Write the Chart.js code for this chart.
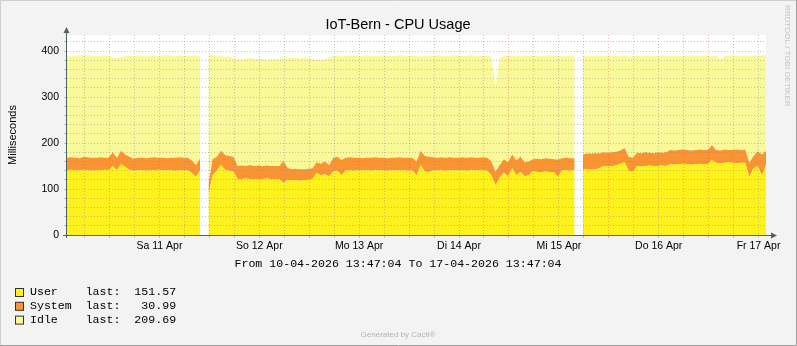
<!DOCTYPE html>
<html>
<head>
<meta charset="utf-8">
<script src="https://cdn.jsdelivr.net/npm/chart.js@4.4.1/dist/chart.umd.min.js"></script>
<style>
  html, body { margin: 0; padding: 0; background: #f3f3f3; }
  canvas { display: block; }
</style>
</head>
<body>
<canvas id="cpu" width="797" height="346"></canvas>
<script>
// x axis is in hours since 10-04-2026 00:00, one sample per hour
const startHour = 13 + 47 / 60 + 4 / 3600;
const spanHours = 168;

const dayLabels = ["Fr 10 Apr", "Sa 11 Apr", "So 12 Apr", "Mo 13 Apr", "Di 14 Apr", "Mi 15 Apr", "Do 16 Apr", "Fr 17 Apr"];
const seriesNames = ["User", "System", "Idle"];
const seriesColors = ["#fff21c", "#fa9433", "#f9f99a"];
const lastValues = [151.57, 30.99, 209.69];

const userMs = [
  141, 142, 141, 141, 142, 141, 140, 141, 141, 142, 141, 150, 141, 154, 148, 142, 140, 141, 141, 140,
  141, 141, 142, 141, 141, 141, 140, 141, 141, 141, 135, 126, 141, null, 88, 130, 140, 152, 142, 140,
  138, 122, 122, 123, 122, 121, 122, 122, 123, 122, 121, 122, 113, 120, 119, 119, 118, 119, 120, 122,
  135, 130, 132, 128, 138, 140, 130, 141, 141, 140, 141, 141, 141, 140, 141, 141, 141, 140, 141, 141,
  141, 141, 140, 141, 130, 152, 138, 137, 141, 141, 141, 140, 141, 141, 141, 141, 140, 141, 141, 141,
  141, 140, 130, 108, 125, 135, 128, 145, 130, 137, 128, 130, 140, 137, 137, 138, 137, 137, 126, 141,
  141, 140, 141, null, 142, 143, 142, 143, 145, 150, 149, 150, 151, 155, 159, 140, 138, 150, 149, 150,
  151, 150, 150, 151, 150, 154, 153, 154, 155, 154, 153, 154, 155, 154, 154, 163, 157, 156, 157, 158,
  157, 156, 157, 157, 126, 145, 150, 130, 151.57
];

const systemMs = [
  27, 27, 27, 26, 28, 28, 28, 27, 28, 26, 27, 30, 27, 29, 27, 28, 26, 27, 27, 27,
  27, 28, 26, 27, 26, 27, 28, 28, 27, 27, 27, 26, 26, null, 22, 35, 30, 31, 32, 32,
  32, 28, 29, 27, 30, 29, 29, 28, 28, 28, 29, 28, 48, 26, 24, 25, 25, 24, 24, 23,
  23, 25, 28, 24, 30, 30, 33, 27, 28, 28, 27, 26, 27, 28, 28, 27, 27, 27, 27, 27,
  28, 27, 28, 27, 30, 31, 34, 33, 28, 27, 28, 28, 28, 27, 27, 28, 28, 28, 27, 27,
  28, 28, 30, 30, 27, 30, 30, 30, 32, 33, 30, 30, 25, 29, 28, 29, 29, 28, 38, 26,
  27, 27, 26, null, 33, 34, 35, 35, 33, 30, 30, 30, 30, 29, 30, 30, 30, 29, 29, 30,
  28, 28, 30, 28, 30, 31, 31, 31, 31, 31, 31, 31, 31, 31, 31, 33, 28, 28, 29, 27,
  28, 30, 28, 29, 31, 27, 32, 45, 30.99
];

const idleMs = [
  221, 219, 222, 224, 222, 222, 222, 221, 221, 223, 222, 206, 217, 204, 214, 220, 223, 223, 222, 221,
  222, 222, 221, 222, 225, 222, 221, 222, 222, 221, 228, 239, 221, null, 286, 225, 218, 207, 213, 217,
  215, 233, 231, 234, 234, 233, 231, 233, 230, 233, 232, 234, 224, 238, 243, 241, 241, 243, 241, 238,
  222, 226, 223, 234, 221, 220, 225, 222, 222, 222, 221, 223, 223, 222, 220, 222, 223, 223, 221, 222,
  222, 222, 221, 222, 229, 205, 218, 219, 221, 223, 221, 221, 221, 223, 222, 220, 222, 222, 222, 221,
  221, 221, 228, 182, 234, 224, 232, 214, 228, 219, 232, 229, 225, 224, 224, 223, 225, 225, 225, 223,
  221, 223, 223, null, 216, 213, 212, 212, 212, 209, 211, 211, 209, 205, 201, 218, 221, 211, 211, 210,
  211, 211, 210, 212, 210, 204, 206, 205, 203, 205, 207, 205, 203, 205, 205, 193, 205, 197, 203, 205,
  206, 204, 204, 204, 232, 218, 209, 215, 209.69
];

const minorGrid = "rgba(140, 140, 140, 0.5)";
const majorGrid = "rgba(240, 60, 60, 0.4)";
const axisColor = "#4a6464";
const sans = "'Liberation Sans', Arial, sans-serif";
const mono = "'Liberation Mono', 'Courier New', monospace";

function toPoints(values) {
  return values.map((v, i) => ({ x: startHour + i, y: v }));
}

function makeDataset(i, fill) {
  return {
    label: seriesNames[i],
    data: toPoints([userMs, systemMs, idleMs][i]),
    backgroundColor: seriesColors[i],
    borderColor: "rgba(0,0,0,0)",
    borderWidth: 1,
    pointRadius: 0,
    tension: 0,
    fill: fill,
  };
}

// background, axes, title, legend and the small rrdtool texts
const rrdFrame = {
  id: "rrdFrame",
  beforeDraw(chart) {
    const { ctx, chartArea: a } = chart;
    ctx.save();
    ctx.fillStyle = "#f3f3f3";
    ctx.fillRect(0, 0, chart.width, chart.height);
    ctx.strokeStyle = "#cfcfcf";
    ctx.beginPath();
    ctx.moveTo(0.5, chart.height);
    ctx.lineTo(0.5, 0.5);
    ctx.lineTo(chart.width, 0.5);
    ctx.stroke();
    ctx.strokeStyle = "#9e9e9e";
    ctx.beginPath();
    ctx.moveTo(chart.width - 0.5, 0);
    ctx.lineTo(chart.width - 0.5, chart.height - 0.5);
    ctx.lineTo(0, chart.height - 0.5);
    ctx.stroke();
    ctx.fillStyle = "#ffffff";
    ctx.fillRect(a.left, a.top, a.right - a.left, a.bottom - a.top);
    ctx.restore();
  },
  afterDraw(chart) {
    const { ctx, chartArea: a } = chart;
    ctx.save();

    // axes with arrow heads
    ctx.strokeStyle = axisColor;
    ctx.fillStyle = axisColor;
    ctx.lineWidth = 1;
    ctx.beginPath();
    ctx.moveTo(a.left - 0.5, a.bottom + 3);
    ctx.lineTo(a.left - 0.5, a.top - 3);
    ctx.moveTo(a.left - 4, a.bottom + 0.5);
    ctx.lineTo(a.right + 5, a.bottom + 0.5);
    ctx.stroke();
    ctx.beginPath();
    ctx.moveTo(a.left - 0.5, a.top - 8);
    ctx.lineTo(a.left - 3.5, a.top - 2);
    ctx.lineTo(a.left + 2.5, a.top - 2);
    ctx.closePath();
    ctx.fill();
    ctx.beginPath();
    ctx.moveTo(a.right + 11, a.bottom + 0.5);
    ctx.lineTo(a.right + 5, a.bottom - 2.5);
    ctx.lineTo(a.right + 5, a.bottom + 3.5);
    ctx.closePath();
    ctx.fill();

    // title
    ctx.fillStyle = "#000";
    ctx.textAlign = "center";
    ctx.textBaseline = "alphabetic";
    ctx.font = "14.5px " + sans;
    ctx.fillText("IoT-Bern - CPU Usage", 398, 28.5);

    // vertical label
    ctx.save();
    ctx.translate(16, (a.top + a.bottom) / 2);
    ctx.rotate(-Math.PI / 2);
    ctx.font = "11px " + sans;
    ctx.fillText("Milliseconds", 0, 0);
    ctx.restore();

    // time range
    ctx.font = "11.6px " + mono;
    ctx.fillText("From 10-04-2026 13:47:04 To 17-04-2026 13:47:04", 398, 266.5);

    // legend
    ctx.textAlign = "left";
    seriesNames.forEach((name, i) => {
      const y = 295 + i * 13.8;
      ctx.fillStyle = seriesColors[i];
      ctx.fillRect(15.5, y - 6.5, 8, 8);
      ctx.strokeStyle = "#333";
      ctx.strokeRect(15.5, y - 6.5, 8, 8);
      ctx.fillStyle = "#000";
      const line = name.padEnd(8) + "last:" + lastValues[i].toFixed(2).padStart(8);
      ctx.fillText(line, 30, y);
    });

    // footer
    ctx.textAlign = "center";
    ctx.fillStyle = "#b4b4b4";
    ctx.font = "8px " + sans;
    ctx.fillText("Generated by Cacti\u00ae", 398, 337);

    // watermark on the right edge
    ctx.save();
    ctx.translate(785, 5);
    ctx.rotate(Math.PI / 2);
    ctx.textAlign = "left";
    ctx.fillStyle = "#c4c4c4";
    ctx.fillText("RRDTOOL / TOBI OETIKER", 0, 0);
    ctx.restore();

    ctx.restore();
  },
};

new Chart(document.getElementById("cpu"), {
  type: "line",
  data: {
    datasets: [makeDataset(0, "origin"), makeDataset(1, "-1"), makeDataset(2, "-1")],
  },
  options: {
    responsive: false,
    animation: false,
    devicePixelRatio: 1,
    events: [],
    layout: { padding: { left: 0, right: 31, top: 35, bottom: 0 } },
    plugins: { legend: { display: false }, tooltip: { enabled: false } },
    scales: {
      x: {
        type: "linear",
        min: startHour,
        max: startHour + spanHours,
        afterFit: (s) => { s.height = 111; },
        afterBuildTicks: (s) => {
          const ticks = [];
          for (let h = 18; h <= 180; h += 6) ticks.push({ value: h });
          s.ticks = ticks;
        },
        grid: {
          z: 1,
          color: (c) => (c.tick && c.tick.value % 24 === 0 ? majorGrid : minorGrid),
          tickColor: (c) => (c.tick && c.tick.value % 24 === 0 ? majorGrid : minorGrid),
          tickLength: 3,
        },
        border: { display: false, dash: [1, 2] },
        ticks: {
          autoSkip: false,
          maxRotation: 0,
          padding: 2,
          color: "#000",
          font: { family: sans, size: 10.5 },
          callback: (v) => (v % 24 === 12 ? dayLabels[(v - 12) / 24] : ""),
        },
      },
      y: {
        stacked: true,
        min: 0,
        max: 435,
        afterFit: (s) => { s.width = 67; },
        afterBuildTicks: (s) => {
          const ticks = [];
          for (let v = 0; v <= 420; v += 20) ticks.push({ value: v });
          s.ticks = ticks;
        },
        grid: {
          z: 1,
          color: (c) => (c.tick && c.tick.value % 100 === 0 ? majorGrid : minorGrid),
          tickColor: (c) => (c.tick && c.tick.value % 100 === 0 ? majorGrid : minorGrid),
          tickLength: 3,
        },
        border: { display: false, dash: [1, 2] },
        ticks: {
          autoSkip: false,
          padding: 5,
          color: "#000",
          font: { family: sans, size: 10.5 },
          callback: (v) => (v % 100 === 0 ? String(v) : ""),
        },
      },
    },
  },
  plugins: [rrdFrame],
});
</script>
</body>
</html>
